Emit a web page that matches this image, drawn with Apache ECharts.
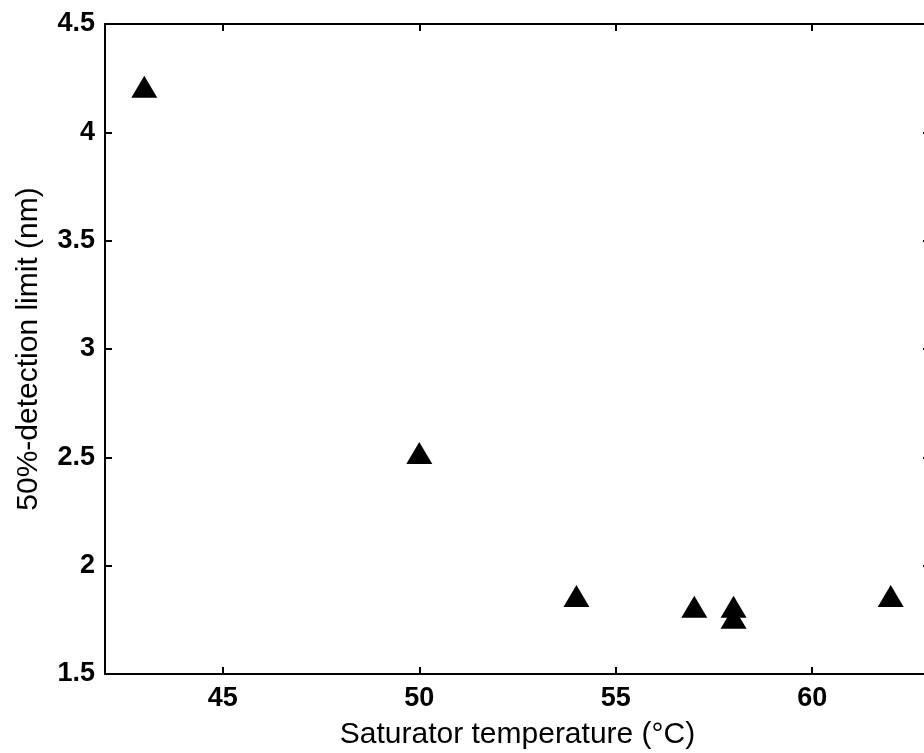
<!DOCTYPE html>
<html>
<head>
<meta charset="utf-8">
<script src="https://cdn.jsdelivr.net/npm/echarts@6/dist/echarts.min.js"></script>
<style>
  html, body { margin: 0; padding: 0; background: #fff; }
  #chart { width: 924px; height: 753px; }
</style>
</head>
<body>
<div id="chart"></div>
<script>
// saturator temperature (°C) and 50% detection limit (nm)
const satTemp = [43, 50, 54, 57, 58, 58, 62];
const detLimit = [4.21, 2.52, 1.86, 1.81, 1.81, 1.76, 1.86];

const points = satTemp.map((t, i) => [t, detLimit[i]]);

const font = "'Liberation Sans', Arial, sans-serif";
const lineStyle = { color: "#000", width: 2 };

const chart = echarts.init(document.getElementById("chart"));
chart.setOption({
    animation: false,
    backgroundColor: "#fff",
    grid: { left: 105, top: 24, width: 825, height: 650, outerBoundsMode: "none" },
    xAxis: [
        {
            type: "value",
            min: 42,
            max: 63,
            name: "Saturator temperature (°C)",
            nameLocation: "middle",
            nameGap: 46,
            nameTextStyle: { fontFamily: font, fontSize: 30, color: "#000" },
            axisLine: { lineStyle },
            axisTick: { inside: true, length: 7, lineStyle },
            axisLabel: {
                fontFamily: font, fontSize: 27, fontWeight: "bold", color: "#000",
                margin: 11, showMinLabel: false, showMaxLabel: false,
            },
            splitLine: { show: false },
        },
        {
            type: "value",
            position: "top",
            min: 42,
            max: 63,
            axisLine: { lineStyle },
            axisTick: { inside: true, length: 7, lineStyle },
            axisLabel: { show: false },
            splitLine: { show: false },
        },
    ],
    yAxis: [
        {
            type: "value",
            min: 1.5,
            max: 4.5,
            interval: 0.5,
            name: "50%-detection limit (nm)",
            nameLocation: "middle",
            nameGap: 61,
            nameTextStyle: { fontFamily: font, fontSize: 30, color: "#000" },
            axisLine: { lineStyle },
            axisTick: { inside: true, length: 7, lineStyle },
            axisLabel: {
                fontFamily: font, fontSize: 27, fontWeight: "bold", color: "#000",
                margin: 10,
            },
            splitLine: { show: false },
        },
        {
            type: "value",
            position: "right",
            min: 1.5,
            max: 4.5,
            interval: 0.5,
            axisLine: { lineStyle },
            axisTick: { inside: true, length: 7, lineStyle },
            axisLabel: { show: false },
            splitLine: { show: false },
        },
    ],
    series: [
        {
            type: "scatter",
            data: points,
            symbol: "triangle",
            symbolSize: [26, 22],
            itemStyle: { color: "#000", opacity: 1 },
        },
    ],
});
</script>
</body>
</html>
